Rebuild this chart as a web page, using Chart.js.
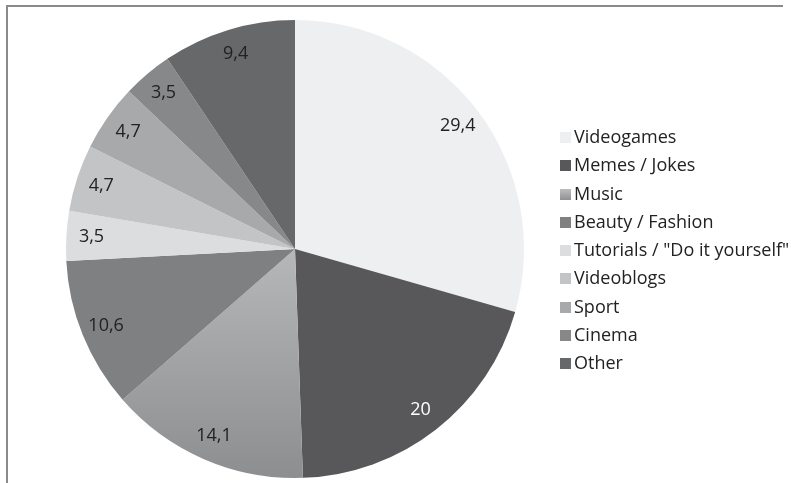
<!DOCTYPE html>
<html>
<head>
<meta charset="utf-8">
<script src="https://cdn.jsdelivr.net/npm/chart.js@4/dist/chart.umd.min.js"></script>
<style>
	html, body { margin: 0; padding: 0; background: #fff; }
	#wrap { position: relative; width: 791px; height: 483px; }
	#frame { position: absolute; left: 6px; top: 5px; width: 777px; height: 478px;
		border-top: 2px solid #8a8a8a; border-left: 2px solid #8a8a8a; box-sizing: border-box; }
	#chartTopics { position: absolute; left: 0; top: 0; }
	#legend { position: absolute; left: 560px; top: 122px; font-family: "Open Sans", sans-serif;
		font-size: 18px; color: #222; }
	#legend div { height: 28.3px; line-height: 28px; white-space: nowrap; }
	#legend span { display: inline-block; width: 11px; height: 11px; margin-right: 3px; vertical-align: 0px; }
</style>
</head>
<body>
<div id="wrap">
	<div id="frame"></div>
	<canvas id="chartTopics" width="791" height="483"></canvas>
	<div id="legend"></div>
</div>
<script>
const topics = ['Videogames', 'Memes / Jokes', 'Music', 'Beauty / Fashion', 'Tutorials / "Do it yourself"', 'Videoblogs', 'Sport', 'Cinema', 'Other'];
const shares = [29.4, 20, 14.1, 10.6, 3.5, 4.7, 4.7, 3.5, 9.4];
const shades = ['#eeeff0', '#58585a', '#a4a5a7', '#7f8082', '#dcdddf', '#c3c4c6', '#a8a9ab', '#87888a', '#67686a'];
const labelInk = ['#222222', '#ffffff', '#222222', '#222222', '#222222', '#222222', '#222222', '#222222', '#222222'];

// Music slice is shaded from light at the top to darker at the rim
function sliceColor(ctx) {
	const i = ctx.dataIndex;
	if (i !== 2) return shades[i];
	const area = ctx.chart.chartArea;
	if (!area) return shades[i];
	const midY = (area.top + area.bottom) / 2;
	const g = ctx.chart.ctx.createLinearGradient(0, midY, 0, area.bottom);
	g.addColorStop(0, '#b6b7b9');
	g.addColorStop(1, '#8d8e90');
	return g;
}

// values written inside each slice, near the rim
const sliceValues = {
	id: 'sliceValues',
	afterDatasetsDraw(chart) {
		const ctx = chart.ctx;
		const meta = chart.getDatasetMeta(0);
		ctx.save();
		ctx.font = '18px "Open Sans", sans-serif';
		ctx.textAlign = 'center';
		ctx.textBaseline = 'middle';
		meta.data.forEach((arc, i) => {
			const p = arc.getProps(['x', 'y', 'startAngle', 'endAngle', 'outerRadius'], true);
			const mid = (p.startAngle + p.endAngle) / 2;
			const r = p.outerRadius * 0.89;
			ctx.fillStyle = labelInk[i];
			ctx.fillText(String(shares[i]).replace('.', ','), p.x + Math.cos(mid) * r, p.y + Math.sin(mid) * r);
		});
		ctx.restore();
	}
};

const chart = new Chart(document.getElementById('chartTopics'), {
	type: 'pie',
	data: {
		labels: topics,
		datasets: [{
			data: shares,
			backgroundColor: sliceColor,
			borderWidth: 0
		}]
	},
	options: {
		responsive: false,
		animation: false,
		layout: { padding: { top: 20, bottom: 5, left: 66, right: 267 } },
		plugins: {
			legend: { display: false },
			tooltip: { enabled: false }
		}
	},
	plugins: [sliceValues]
});

// legend built from the chart's own legend items
const legendBox = document.getElementById('legend');
Chart.overrides.pie.plugins.legend.labels.generateLabels(chart).forEach((item, i) => {
	const row = document.createElement('div');
	const swatch = document.createElement('span');
	swatch.style.background = i === 2 ? 'linear-gradient(#bcbdbf, #8f9092)' : shades[i];
	row.appendChild(swatch);
	row.appendChild(document.createTextNode(item.text));
	legendBox.appendChild(row);
});
</script>
</body>
</html>
